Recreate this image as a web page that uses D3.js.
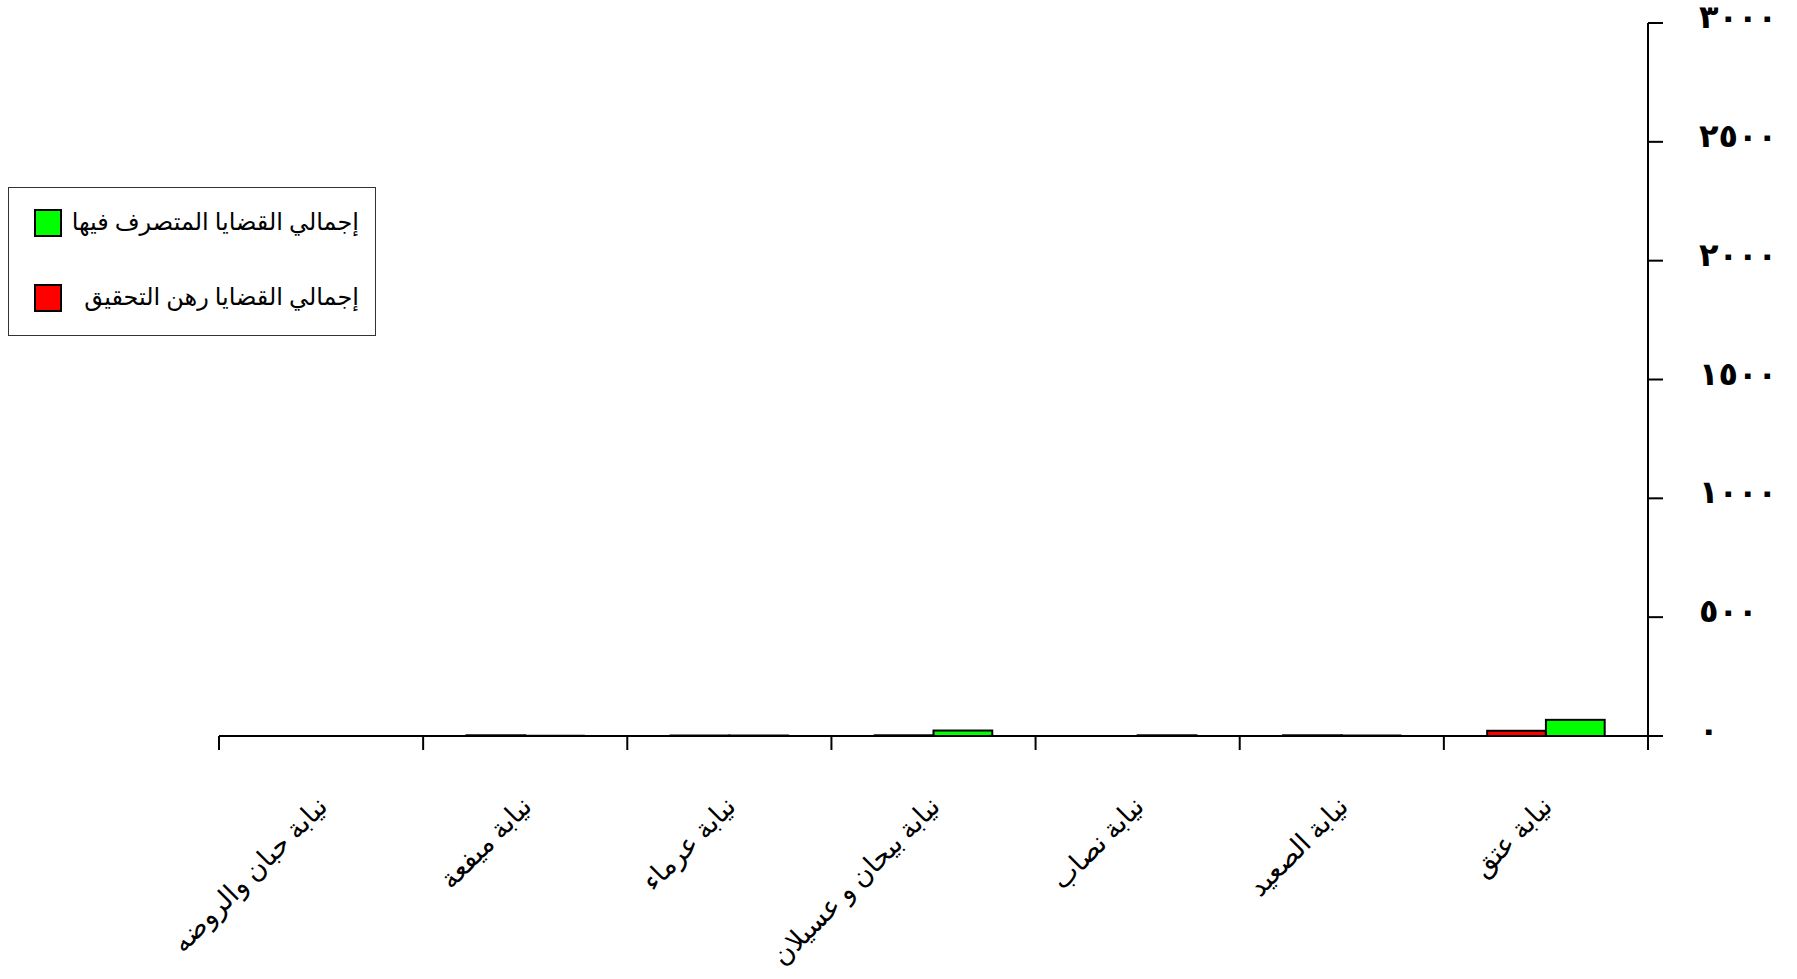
<!DOCTYPE html>
<html>
<head>
<meta charset="utf-8">
<script src="https://cdn.jsdelivr.net/npm/d3@7"></script>
<style>
  html, body { margin: 0; padding: 0; background: #fff; }
  svg { display: block; }
  text { font-family: 'Times New Roman', 'DejaVu Serif', 'DejaVu Sans', serif; }
</style>
</head>
<body>
<svg id="chart" width="1797" height="979"></svg>
<script>
// ---- data ----
const categories = [
  "نيابة حبان والروضه",
  "نيابة ميفعة",
  "نيابة عرماء",
  "نيابة بيحان و عسيلان",
  "نيابة نصاب",
  "نيابة الصعيد",
  "نيابة عتق"
];
const seriesNames = ["إجمالي القضايا رهن التحقيق", "إجمالي القضايا المتصرف فيها"];
const pendingValues = [0, 3, 2, 3, 0, 3, 22];     // red
const disposedValues = [0, 1, 2, 23, 3, 2, 68];   // green
const yTicks = [0, 500, 1000, 1500, 2000, 2500, 3000];
const colors = ["#ff0000", "#00ff00"];

const toArabicDigits = n => String(n).replace(/[0-9]/g, d => "٠١٢٣٤٥٦٧٨٩"[+d]);

const svg = d3.select("#chart");
const mLeft = 219, mRight = 1648, mTop = 23, mBottom = 736;

const x0 = d3.scaleBand().domain(categories).range([mLeft, mRight]).paddingInner(0).paddingOuter(0);
const x1 = d3.scaleBand().domain([0, 1]).range([0, x0.bandwidth()]).paddingInner(0).paddingOuter(0.737);
const y = d3.scaleLinear().domain([0, 3000]).range([mBottom, mTop]);

const rows = categories.map((c, i) => ({ cat: c, vals: [pendingValues[i], disposedValues[i]] }));

// bars
const g = svg.append("g");
g.selectAll("g.grp").data(rows).join("g")
  .attr("class", "grp")
  .attr("transform", d => `translate(${x0(d.cat)},0)`)
  .selectAll("rect").data(d => d.vals.map((v, k) => ({ k, v })))
  .join("rect")
  .attr("x", d => x1(d.k))
  .attr("width", x1.bandwidth())
  .attr("y", d => y(d.v))
  .attr("height", d => mBottom - y(d.v))
  .attr("fill", d => colors[d.k])
  .attr("stroke", "#000")
  .attr("stroke-width", 2);

// x axis
const xAxis = svg.append("g").attr("transform", `translate(0,${mBottom})`);
xAxis.append("line").attr("x1", mLeft).attr("x2", mRight + 15).attr("y1", 0).attr("y2", 0)
  .attr("stroke", "#000").attr("stroke-width", 2);
const xTickPos = categories.map(c => x0(c)).concat([mRight]);
xAxis.selectAll("line.tk").data(xTickPos).join("line").attr("class", "tk")
  .attr("x1", d => d).attr("x2", d => d).attr("y1", 0).attr("y2", 14)
  .attr("stroke", "#000").attr("stroke-width", 2);

xAxis.selectAll("text.lbl").data(categories).join("text").attr("class", "lbl")
  .attr("transform", d => `translate(${x0(d) + x0.bandwidth() / 2 + 8},${72}) rotate(-45)`)
  .attr("text-anchor", "end")
  .attr("font-size", 27)
  .attr("fill", "#000")
  .text(d => d);

// y axis (right)
const yAxis = svg.append("g").attr("transform", `translate(${mRight},0)`);
yAxis.append("line").attr("x1", 0).attr("x2", 0).attr("y1", mTop).attr("y2", mBottom + 14)
  .attr("stroke", "#000").attr("stroke-width", 2);
yAxis.selectAll("line.tk").data(yTicks).join("line").attr("class", "tk")
  .attr("x1", 0).attr("x2", 15).attr("y1", d => y(d)).attr("y2", d => y(d))
  .attr("stroke", "#000").attr("stroke-width", 2);
yAxis.selectAll("text.tl").data(yTicks).join("text").attr("class", "tl")
  .attr("x", 51).attr("y", d => y(d) + 5)
  .attr("text-anchor", "start")
  .attr("font-size", 32).attr("font-weight", "bold")
  .attr("letter-spacing", 3)
  .attr("fill", "#000")
  .text(d => toArabicDigits(d));

// legend
const lg = svg.append("g");
lg.append("rect").attr("x", 8.5).attr("y", 187.5).attr("width", 367).attr("height", 148)
  .attr("fill", "#fff").attr("stroke", "#333").attr("stroke-width", 1);
const legendItems = [
  { name: seriesNames[1], color: colors[1], cy: 223 },
  { name: seriesNames[0], color: colors[0], cy: 298 }
];
legendItems.forEach(it => {
  lg.append("rect").attr("x", 35).attr("y", it.cy - 13).attr("width", 26).attr("height", 26)
    .attr("fill", it.color).attr("stroke", "#000").attr("stroke-width", 2);
  lg.append("text").attr("x", 359).attr("y", it.cy + 7)
    .attr("text-anchor", "end").attr("font-size", 24).attr("fill", "#000")
    .text(it.name);
});
</script>
</body>
</html>
